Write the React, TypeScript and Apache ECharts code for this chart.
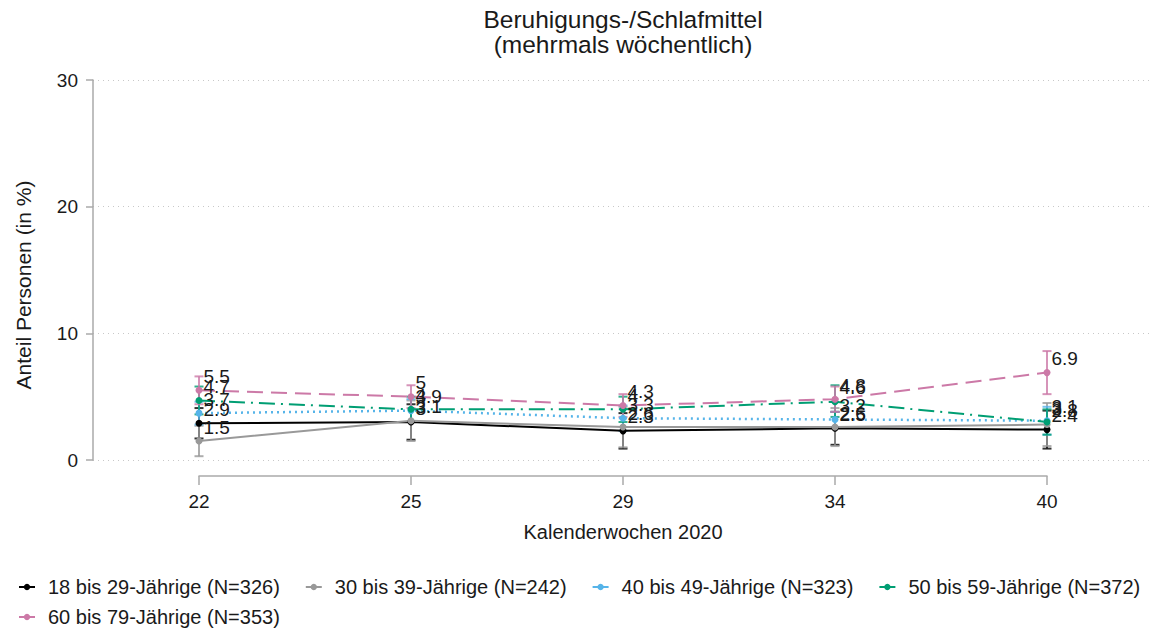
import React, { useEffect, useRef } from 'react';
import * as echarts from 'echarts';

// Kalenderwochen (categories)
const weeks = ['22', '25', '29', '34', '40'];

const groupNames = [
  '18 bis 29-Jährige (N=326)',
  '30 bis 39-Jährige (N=242)',
  '40 bis 49-Jährige (N=323)',
  '50 bis 59-Jährige (N=372)',
  '60 bis 79-Jährige (N=353)',
];
const colors = ['#000000', '#999999', '#56B4E9', '#009E73', '#CC79A7'];

// Anteil in %
const val18_29 = [2.9, 3.0, 2.3, 2.5, 2.4];
const val30_39 = [1.5, 3.1, 2.6, 2.6, 2.8];
const val40_49 = [3.7, 3.9, 3.3, 3.2, 3.1];
const val50_59 = [4.7, 4.0, 4.0, 4.6, 3.0];
const val60_79 = [5.5, 5.0, 4.3, 4.8, 6.9];

// Konfidenzintervalle (untere / obere Grenze)
const lo18_29 = [1.7, 1.6, 0.9, 1.2, 0.9];
const hi18_29 = [4.1, 4.4, 3.7, 3.8, 3.9];
const lo30_39 = [0.3, 1.5, 1.0, 1.1, 1.1];
const hi30_39 = [2.7, 4.7, 4.2, 4.1, 4.5];
const lo40_49 = [2.8, 3.0, 2.3, 2.6, 2.0];
const hi40_49 = [4.6, 4.8, 4.3, 3.8, 4.2];
const lo50_59 = [3.6, 3.0, 3.0, 3.4, 2.0];
const hi50_59 = [5.8, 5.0, 5.0, 5.9, 4.0];
const lo60_79 = [4.4, 4.1, 3.4, 3.8, 5.2];
const hi60_79 = [6.6, 5.9, 5.2, 5.8, 8.6];

const yTicks = { min: 0, max: 30, interval: 10 };

const values = [val18_29, val30_39, val40_49, val50_59, val60_79];
const lows = [lo18_29, lo30_39, lo40_49, lo50_59, lo60_79];
const highs = [hi18_29, hi30_39, hi40_49, hi50_59, hi60_79];
const dashes: any[] = ['solid', 'solid', [2, 4], [16, 6, 2, 6], [16, 8]];
const widths = [2, 2, 2.5, 2, 2];

const FONT = '"Liberation Sans", Arial, Helvetica, sans-serif';
const TXT = '#1a1a1a';

export default function App() {
  const ref = useRef<HTMLDivElement>(null);

  useEffect(() => {
    if (!ref.current) return;
    const chart = echarts.init(ref.current, undefined, { renderer: 'svg' });

    const lineSeries = values.map((vals, k) => ({
      type: 'line',
      name: groupNames[k],
      xAxisIndex: 0,
      yAxisIndex: 0,
      data: vals,
      symbol: 'circle',
      symbolSize: 7,
      color: colors[k],
      itemStyle: { color: colors[k] },
      lineStyle: { color: colors[k], width: widths[k], type: dashes[k] },
      z: 3,
      label: {
        show: true,
        position: 'right',
        distance: 1,
        offset: [0, -14],
        fontSize: 19,
        fontFamily: FONT,
        color: TXT,
      },
    }));

    const errSeries = values.map((_, k) => ({
      type: 'custom',
      name: groupNames[k] + ' KI',
      xAxisIndex: 0,
      yAxisIndex: 0,
      silent: true,
      z: 2,
      data: weeks.map((_w, i) => [i, lows[k][i], highs[k][i]]),
      encode: { x: 0, y: [1, 2] },
      renderItem: (_params: any, api: any) => {
        const x = api.value(0);
        const a = api.coord([x, api.value(1)]);
        const b = api.coord([x, api.value(2)]);
        const hw = 4.5;
        const style = { stroke: colors[k], lineWidth: 2, opacity: 0.8 };
        return {
          type: 'group',
          children: [
            { type: 'line', shape: { x1: a[0], y1: a[1], x2: b[0], y2: b[1] }, style },
            { type: 'line', shape: { x1: a[0] - hw, y1: a[1], x2: a[0] + hw, y2: a[1] }, style },
            { type: 'line', shape: { x1: b[0] - hw, y1: b[1], x2: b[0] + hw, y2: b[1] }, style },
          ],
        };
      },
    }));

    const legendCommon = {
      orient: 'horizontal',
      left: 18,
      width: 1135,
      padding: 0,
      itemWidth: 16,
      itemHeight: 8,
      itemGap: 25,
      lineStyle: { type: 'solid', width: 2 },
      textStyle: { fontSize: 20, fontFamily: FONT, color: TXT, padding: [0, 0, 0, 8] },
    };

    chart.setOption({
      animation: false,
      backgroundColor: '#ffffff',
      title: {
        text: 'Beruhigungs-/Schlafmittel\n(mehrmals wöchentlich)',
        left: 623,
        top: 7,
        padding: 0,
        textAlign: 'center',
        textStyle: { fontSize: 24.5, fontWeight: 'normal', fontFamily: FONT, color: TXT, lineHeight: 25 },
      },
      legend: [
        { ...legendCommon, top: 577, data: groupNames.slice(0, 4) },
        { ...legendCommon, top: 607, data: groupNames.slice(4) },
      ],
      grid: [
        { left: 93, right: 0, top: 80, bottom: 170, containLabel: false },
        { left: 199, width: 848, top: 470, height: 6, containLabel: false },
      ],
      xAxis: [
        {
          gridIndex: 0,
          type: 'category',
          data: weeks,
          boundaryGap: true,
          axisLine: { show: false },
          axisTick: { show: false },
          axisLabel: { show: false },
          splitLine: { show: false },
        },
        {
          gridIndex: 1,
          type: 'category',
          data: weeks,
          boundaryGap: false,
          position: 'bottom',
          axisLine: { show: true, lineStyle: { color: '#aaaaaa', width: 1.5 } },
          axisTick: { show: true, length: 9, alignWithLabel: true, lineStyle: { color: '#aaaaaa', width: 1.5 } },
          axisLabel: { fontSize: 19, fontFamily: FONT, color: TXT, margin: 16 },
          name: 'Kalenderwochen 2020',
          nameLocation: 'middle',
          nameGap: 46,
          nameTextStyle: { fontSize: 20, fontFamily: FONT, color: TXT },
        },
      ],
      yAxis: [
        {
          gridIndex: 0,
          type: 'value',
          min: yTicks.min,
          max: yTicks.max,
          interval: yTicks.interval,
          axisLine: { show: true, lineStyle: { color: '#aaaaaa', width: 1.5 } },
          axisTick: { show: true, length: 7, lineStyle: { color: '#aaaaaa', width: 1.5 } },
          axisLabel: { fontSize: 19, fontFamily: FONT, color: TXT, margin: 15 },
          splitLine: { show: true, lineStyle: { color: '#c8c8c8', type: [1, 4], width: 1 } },
          name: 'Anteil Personen (in %)',
          nameLocation: 'middle',
          nameGap: 59,
          nameTextStyle: { fontSize: 21, fontFamily: FONT, color: TXT, padding: [0, 30, 0, 0] },
        },
        { gridIndex: 1, type: 'value', show: false },
      ],
      series: [...lineSeries, ...errSeries],
    });

    return () => chart.dispose();
  }, []);

  return <div ref={ref} style={{ width: 1153, height: 630, position: 'absolute', left: 0, top: 0 }} />;
}
